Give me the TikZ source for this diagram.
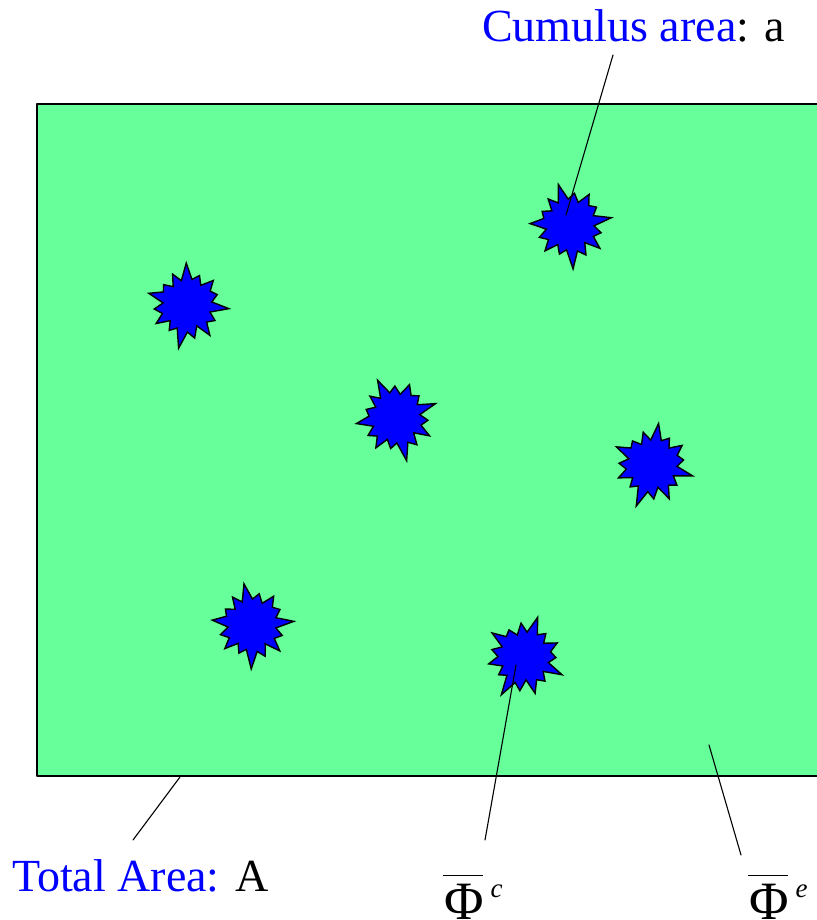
\documentclass[tikz,border=0pt]{standalone}
\usepackage{amsmath}
\usepackage{fontspec}
\setmainfont{Liberation Serif}
\usetikzlibrary{calc}

% mean flux symbol with bar and italic superscript
\newcommand{\meanflux}[1]{%
  \makebox[0pt][l]{\raisebox{43pt}{\rule{40pt}{1.4pt}}}%
  \hspace{1pt}Φ\hspace{7pt}%
  \raisebox{22pt}{\fontsize{27pt}{30pt}\selectfont\itshape #1}}

\begin{document}
\begin{tikzpicture}[x=1pt, y=-1pt, line cap=round, line join=round]
  \tikzset{
    areabox/.style={line width=1.5pt, draw=black, fill=areagreen},
    cloudfill/.style={line width=1.4pt, draw=black, fill=cloudblue, line join=miter},
    leader/.style={line width=1.1pt, draw=black},
    labeltext/.style={inner sep=0pt, font=\fontsize{46pt}{52pt}\selectfont},
    symtext/.style={inner sep=0pt, font=\fontsize{54pt}{58pt}\selectfont},
    pics/cumulus/.style={code={
      \draw[cloudfill] (0:42) -- (12:24) -- (24:32) -- (36:26) -- (48:38) -- (60:23)
        -- (72:34) -- (84:27) -- (96:44) -- (108:25) -- (120:31) -- (132:23)
        -- (144:36) -- (156:26) -- (168:33) -- (180:24) -- (192:40) -- (204:27)
        -- (216:31) -- (228:23) -- (240:34) -- (252:25) -- (264:42) -- (276:26)
        -- (288:32) -- (300:24) -- (312:36) -- (324:27) -- (336:32) -- (348:25) -- cycle;
    }}
  }
  \definecolor{areagreen}{RGB}{102,255,153}
  \definecolor{cloudblue}{RGB}{0,0,255}

  \useasboundingbox (0,0) rectangle (816,920);

  % Total area
  \draw[areabox] (37,104) rectangle (840,776);

  % Cumulus cells
  \pic[rotate=10]  at (570,225) {cumulus};
  \pic[rotate=-5]  at (187,305) {cumulus};
  \pic[rotate=20]  at (396,418) {cumulus};
  \pic[rotate=-15] at (652,465) {cumulus};
  \pic[rotate=5]   at (252,625) {cumulus};
  \pic[rotate=-25] at (524,657) {cumulus};

  % Labels
  \node[labeltext, anchor=base west] (cumlabel) at (482,42)
    {\textcolor{cloudblue}{Cumulus area}: a};
  \node[labeltext, anchor=base west] (totlabel) at (12,891)
    {\textcolor{cloudblue}{Total Area:} A};
  \node[symtext, anchor=base west] (phic) at (443,919) {\meanflux{c}};
  \node[symtext, anchor=base west] (phie) at (748,919) {\meanflux{e}};

  % Leader lines
  \coordinate (cum_top) at (613,55);
  \coordinate (cum_bot) at (566,215);
  \coordinate (tot_top) at (180,777);
  \coordinate (tot_bot) at (133,840);
  \coordinate (phic_top) at (516,665);
  \coordinate (phic_bot) at (485,840);
  \coordinate (phie_top) at (709,745);
  \coordinate (phie_bot) at (741,855);

  \draw[leader] (cum_top) -- (cum_bot);
  \draw[leader] (tot_top) -- (tot_bot);
  \draw[leader] (phic_top) -- (phic_bot);
  \draw[leader] (phie_top) -- (phie_bot);

\end{tikzpicture}
\end{document}
